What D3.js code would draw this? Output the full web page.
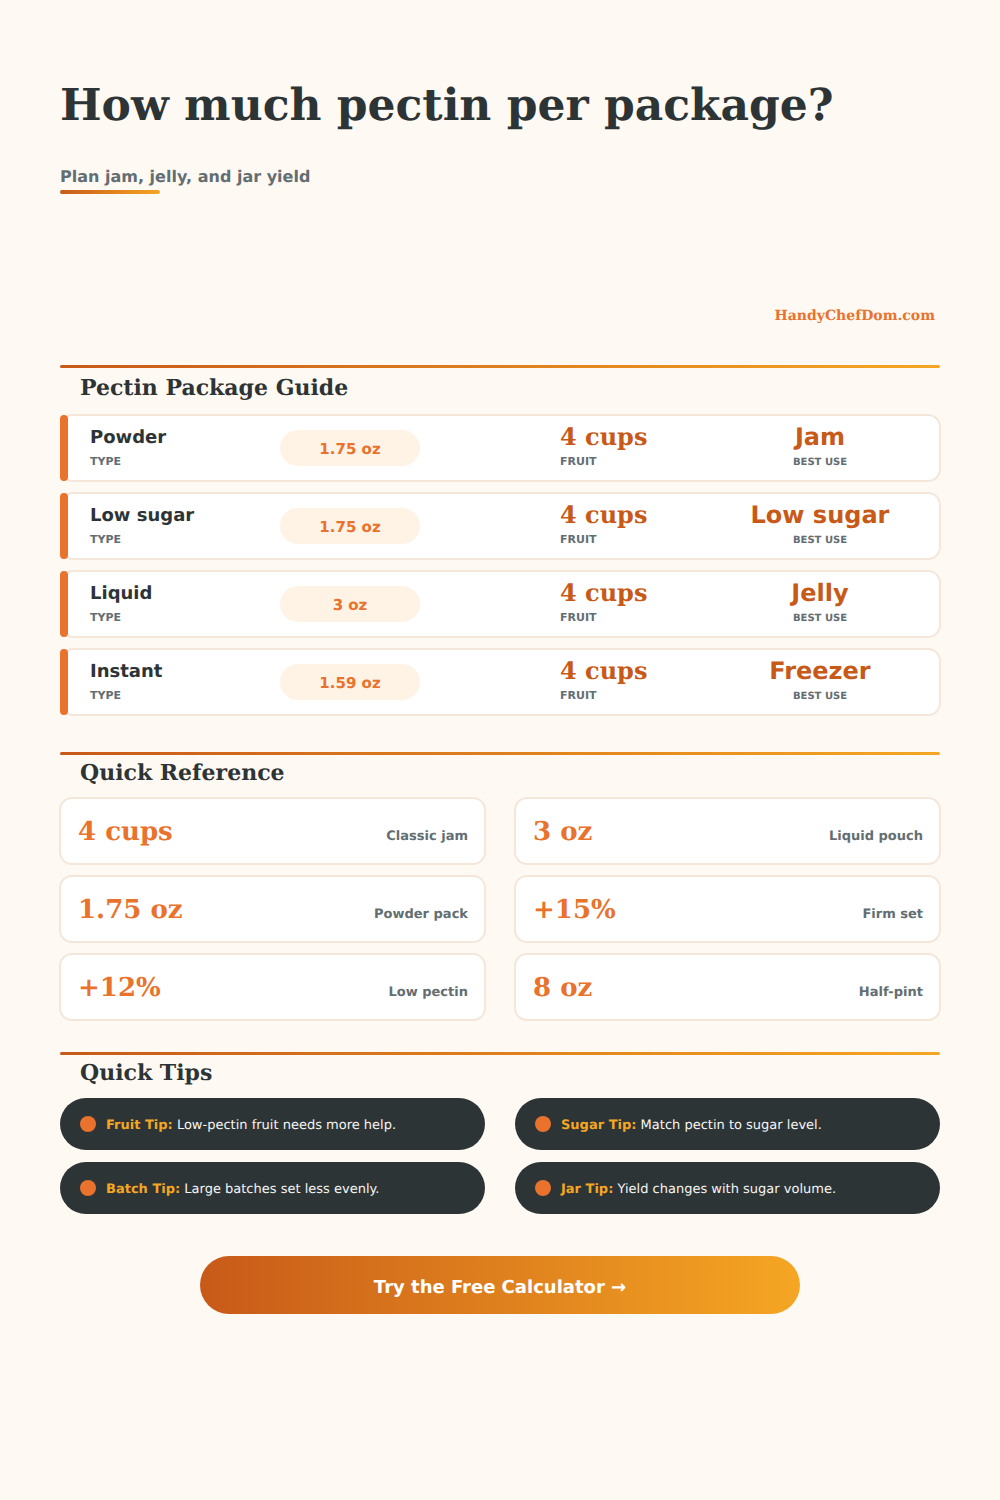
<!DOCTYPE html>
<html><head><meta charset="utf-8">
<script src="https://cdn.jsdelivr.net/npm/d3@7/dist/d3.min.js"></script>
<style>html,body{margin:0;padding:0;background:#fff9f3}svg{display:block}text{text-rendering:geometricPrecision}</style>
</head><body><div id="c"></div>
<script>
const title = "How much pectin per package?";
const subtitle = "Plan jam, jelly, and jar yield";
const brand = "HandyChefDom.com";
const guideTitle = "Pectin Package Guide";
const refTitle = "Quick Reference";
const tipsTitle = "Quick Tips";
const cta = "Try the Free Calculator →";
const types = ["Powder","Low sugar","Liquid","Instant"];
const sizes = ["1.75 oz","1.75 oz","3 oz","1.59 oz"];
const fruit = ["4 cups","4 cups","4 cups","4 cups"];
const uses = ["Jam","Low sugar","Jelly","Freezer"];
const refValues = ["4 cups","3 oz","1.75 oz","+15%","+12%","8 oz"];
const refLabels = ["Classic jam","Liquid pouch","Powder pack","Firm set","Low pectin","Half-pint"];
const tipHeads = ["Fruit Tip:","Sugar Tip:","Batch Tip:","Jar Tip:"];
const tipTexts = ["Low-pectin fruit needs more help.","Match pectin to sugar level.","Large batches set less evenly.","Yield changes with sugar volume."];

const SERIF="'DejaVu Serif',serif", SANS="'DejaVu Sans',sans-serif";
const DARK="#2d3436", ORANGE="#e9722c", RUST="#c85a19", AMBER="#f5a623", GREY="#636e72", BORDER="#f5e6da";
const svg=d3.select("#c").append("svg").attr("width",1000).attr("height",1500);
const defs=svg.append("defs");
function grad(id,units){const g=defs.append("linearGradient").attr("id",id);
 if(units){g.attr("gradientUnits","userSpaceOnUse").attr("x1",units[0]).attr("x2",units[1]).attr("y1",0).attr("y2",0);}
 g.append("stop").attr("offset","0%").attr("stop-color",RUST);
 g.append("stop").attr("offset","100%").attr("stop-color",AMBER);}
grad("rule",[60,940]);
grad("sub",[60,160]);
grad("btn",[200,800]);
svg.append("rect").attr("width",1000).attr("height",1500).attr("fill","#fff9f3");

function text(g,x,y,s,size,weight,fill,family,anchor,ls){
 return g.append("text").attr("x",x).attr("y",y).text(s).attr("font-size",size).attr("font-weight",weight)
  .attr("fill",fill).attr("font-family",family).attr("text-anchor",anchor||"start").attr("letter-spacing",ls||null);
}
const root=svg.append("g");
text(root,60,120,title,44,700,DARK,SERIF);
text(root,60,182,subtitle,16,700,GREY,SANS);
root.append("rect").attr("x",60).attr("y",190).attr("width",100).attr("height",4).attr("rx",2).attr("fill","url(#sub)");
text(root,935,320,brand,14,700,ORANGE,SERIF,"end");

function section(y,t,dy){
 root.append("rect").attr("x",60).attr("y",y).attr("width",880).attr("height",3).attr("rx",1.5).attr("fill","url(#rule)");
 text(root,80,y+dy,t,22,700,DARK,SERIF);
}
section(365,guideTitle,30); section(752,refTitle,28); section(1052,tipsTitle,28);

const rowY=d3.scaleLinear().domain([0,1]).range([415,493]);
const rows=root.selectAll("g.row").data(types).join("g").attr("class","row").attr("transform",(d,i)=>`translate(0,${rowY(i)})`);
rows.append("rect").attr("x",61).attr("y",0).attr("width",879).attr("height",66).attr("rx",12).attr("fill","#fff").attr("stroke",BORDER).attr("stroke-width",2);
rows.append("rect").attr("x",60).attr("y",0).attr("width",8).attr("height",66).attr("rx",4).attr("fill",ORANGE);
rows.each(function(d,i){const g=d3.select(this);
 text(g,90,28,types[i],18,700,DARK,SANS);
 text(g,90,50,"TYPE",11,700,GREY,SANS);
 g.append("rect").attr("x",280).attr("y",15).attr("width",140).attr("height",36).attr("rx",18).attr("fill","#fff3e6");
 text(g,350,39,sizes[i],15,700,ORANGE,SANS,"middle");
 text(g,560,30,fruit[i],24,700,RUST,SERIF);
 text(g,560,50,"FRUIT",11,700,GREY,SANS);
 text(g,820,30,uses[i],24,700,RUST,SANS,"middle");
 text(g,820,50,"BEST USE",10,700,GREY,SANS,"middle");
});

const colX=d3.scaleOrdinal().domain([0,1]).range([60,515]);
const refY=d3.scaleLinear().domain([0,1]).range([798,876]);
refValues.forEach((v,i)=>{const c=i%2,r=Math.floor(i/2);
 const g=root.append("g").attr("transform",`translate(${colX(c)},${refY(r)})`);
 g.append("rect").attr("x",0).attr("y",0).attr("width",425).attr("height",66).attr("rx",12).attr("fill","#fff").attr("stroke",BORDER).attr("stroke-width",2);
 text(g,18,42,v,26,700,ORANGE,SERIF);
 text(g,408,42,refLabels[i],13,700,GREY,SANS,"end");
});

const tipY=d3.scaleLinear().domain([0,1]).range([1098,1162]);
tipHeads.forEach((h,i)=>{const c=i%2,r=Math.floor(i/2);
 const g=root.append("g").attr("transform",`translate(${colX(c)},${tipY(r)})`);
 g.append("rect").attr("width",425).attr("height",52).attr("rx",26).attr("fill",DARK);
 g.append("circle").attr("cx",28).attr("cy",26).attr("r",8).attr("fill",ORANGE);
 const t=g.append("text").attr("x",46).attr("y",31).attr("font-size",13).attr("font-family",SANS);
 t.append("tspan").attr("font-weight",700).attr("fill",AMBER).text(h);
 t.append("tspan").attr("fill","#f5f5f5").text(" "+tipTexts[i]);
});

root.append("rect").attr("x",200).attr("y",1256).attr("width",600).attr("height",58).attr("rx",29).attr("fill","url(#btn)");
text(root,500,1293,cta,18,700,"#fff",SANS,"middle");
</script></body></html>
